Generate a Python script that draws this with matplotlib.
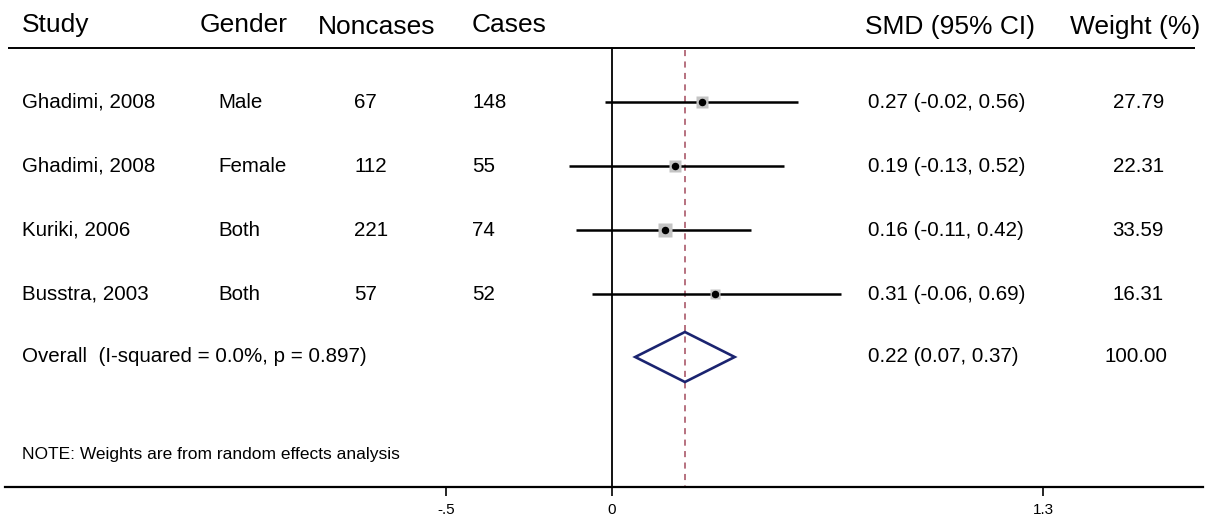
import matplotlib
matplotlib.use("Agg")
import matplotlib.pyplot as plt
import numpy as np

plt.rcParams["font.family"] = ["Liberation Sans", "DejaVu Sans"]

# data
studies = ["Ghadimi, 2008", "Ghadimi, 2008", "Kuriki, 2006", "Busstra, 2003"]
genders = ["Male", "Female", "Both", "Both"]
noncases = [67, 112, 221, 57]
cases = [148, 55, 74, 52]
smd = [0.27, 0.19, 0.16, 0.31]
ci_low = [-0.02, -0.13, -0.11, -0.06]
ci_high = [0.56, 0.52, 0.42, 0.69]
weights = [27.79, 22.31, 33.59, 16.31]

overall_smd = 0.22
overall_low = 0.07
overall_high = 0.37
overall_label = "Overall  (I-squared = 0.0%, p = 0.897)"
note = "NOTE: Weights are from random effects analysis"

xticks = [-0.5, 0, 1.3]
xtick_labels = ["-.5", "0", "1.3"]

# layout (pixel based, y measured from top)
W, H = 1206, 522
x0_px, unit_px = 612, 331.5
row_y = [102, 166, 230, 294]
overall_y = 357
header_y = 25
topline_y = 48
axis_y = 487


def fx(p):
    # figure pixel column -> axes fraction
    return p / W


fig = plt.figure(figsize=(W / 100, H / 100), dpi=100)
ax = fig.add_axes([0, (H - axis_y) / H, 1, axis_y / H])
ax.set_xlim(-x0_px / unit_px, (W - x0_px) / unit_px)
ax.set_ylim(axis_y, 0)
for s in ["top", "left", "right"]:
    ax.spines[s].set_visible(False)
ax.spines["bottom"].set_linewidth(1.6)
ax.spines["bottom"].set_bounds((5 - x0_px) / unit_px, (1203 - x0_px) / unit_px)
ax.set_yticks([])
ax.set_xticks(xticks)
ax.set_xticklabels(xtick_labels)
ax.tick_params(axis="x", length=6.5, width=1.2, pad=5, labelsize=11)

# header rule and reference lines
ax.plot([(8 - x0_px) / unit_px, (1195 - x0_px) / unit_px], [topline_y, topline_y],
        color="black", lw=1.4, solid_capstyle="butt")
ax.plot([0, 0], [topline_y, axis_y], color="black", lw=1.3)
ax.plot([overall_smd, overall_smd], [topline_y + 2, axis_y], color="#a34a5c",
        lw=1.1, dashes=(4, 3.5))

# study estimates
for i in range(len(smd)):
    y = row_y[i]
    ax.plot([ci_low[i], ci_high[i]], [y, y], color="black", lw=1.8,
            solid_capstyle="butt", zorder=3)
    ax.plot(smd[i], y, marker="s", ms=9.0 * np.sqrt(weights[i] / 27.79),
            color="#c4c4c4", mec="none", zorder=4)
    ax.plot(smd[i], y, marker="o", ms=4.4, color="black", zorder=5)

# overall diamond
ax.fill([overall_low, overall_smd, overall_high, overall_smd, overall_low],
        [overall_y, overall_y - 25, overall_y, overall_y + 25, overall_y],
        facecolor="none", edgecolor="#1b2470", lw=1.9, zorder=3)

# text columns
tr = ax.get_yaxis_transform()
hdr = dict(fontsize=19, va="center", transform=tr)
ax.text(fx(22), header_y, "Study", ha="left", **hdr)
ax.text(fx(200), header_y, "Gender", ha="left", **hdr)
ax.text(fx(318), header_y + 2, "Noncases", ha="left", **hdr)
ax.text(fx(472), header_y, "Cases", ha="left", **hdr)
ax.text(fx(1035), header_y + 2, "SMD (95% CI)", ha="right", **hdr)
ax.text(fx(1200), header_y + 2, "Weight (%)", ha="right", **hdr)

row = dict(fontsize=14.8, va="center", transform=tr)
for i in range(len(smd)):
    y = row_y[i]
    ax.text(fx(22), y, studies[i], ha="left", **row)
    ax.text(fx(218), y, genders[i], ha="left", **row)
    ax.text(fx(354), y, str(noncases[i]), ha="left", **row)
    ax.text(fx(472), y, str(cases[i]), ha="left", **row)
    ax.text(fx(868), y, f"{smd[i]:.2f} ({ci_low[i]:.2f}, {ci_high[i]:.2f})",
            ha="left", **row)
    ax.text(fx(1164), y, f"{weights[i]:.2f}", ha="right", **row)

ax.text(fx(22), overall_y, overall_label, ha="left", **row)
ax.text(fx(868), overall_y,
        f"{overall_smd:.2f} ({overall_low:.2f}, {overall_high:.2f})", ha="left", **row)
ax.text(fx(1167), overall_y, "100.00", ha="right", **row)

ax.text(fx(22), 455, note, ha="left", va="center", fontsize=12.5, transform=tr)

fig.savefig("out.png", dpi=100, facecolor="white")
